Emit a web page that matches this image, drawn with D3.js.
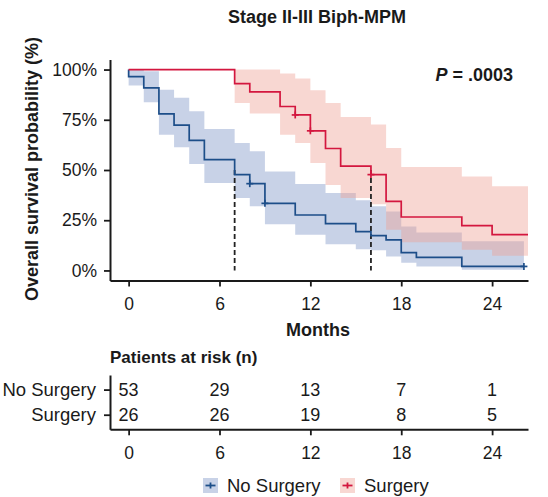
<!DOCTYPE html>
<html>
<head>
<meta charset="utf-8">
<script src="https://cdn.jsdelivr.net/npm/d3@7"></script>
<style>
  body { margin: 0; background: #fff; }
  text { font-family: "Liberation Sans", Arial, sans-serif; fill: #1a1a1a; }
</style>
</head>
<body>
<div id="km_chart"></div>
<script>
// Kaplan-Meier steps (months, %)
const blueTimes = [0, 1, 2, 3, 4, 5, 7, 8, 9, 11, 13, 15, 16, 17, 18, 19, 22];
const blueSurv = [96.5, 90.9, 77.9, 72.3, 64.7, 55.2, 47.7, 43.2, 33.4, 27.6, 23.3, 19.3, 17.3, 15.2, 8.9, 6.5, 2.0];
const blueUpper = [100, 99.2, 90.0, 85.9, 79.2, 70.4, 63.5, 59.3, 49.3, 43.0, 38.6, 35.0, 32.0, 29.4, 21.9, 18.9, 14.5];
const blueLower = [92.0, 83.7, 67.6, 61.3, 53.0, 43.5, 36.1, 31.9, 23.0, 17.8, 13.0, 10.5, 10.0, 7.0, 3.8, 2.0, 0.3];
const blueEnd = 26.1;
const blueCensor = [8, 9, 26.1];

const redTimes = [7, 8, 10, 11, 12, 13, 14, 16, 17, 18, 22, 24];
const redSurv = [93.0, 88.9, 81.6, 77.4, 69.5, 60.7, 51.9, 47.7, 34.4, 26.6, 22.3, 17.8];
const redUpper = [100, 100, 98.0, 95.5, 89.7, 83.4, 76.4, 72.6, 61.0, 51.5, 46.8, 41.9];
const redLower = [83.4, 78.1, 67.6, 63.5, 53.5, 42.5, 36.1, 33.0, 20.3, 14.0, 10.3, 7.3];
const redEnd = 26.37;
const redCensor = [11, 12, 16];

const medians = [7, 16];
const groups = ["No Surgery", "Surgery"];
const riskTimes = [0, 6, 12, 18, 24];
const riskNoSurgery = [53, 29, 13, 7, 1];
const riskSurgery = [26, 26, 19, 8, 5];
const xTicks = [0, 6, 12, 18, 24];
const yTicks = [0, 25, 50, 75, 100];

const width = 548, height = 497;
const BLUE = "#1d4e89", RED = "#d3173f";
const BLUE_BAND = "#7b93c6", RED_BAND = "#ef9f94";

const svg = d3.select("#km_chart").append("svg")
    .attr("width", width)
    .attr("height", height);

const x = d3.scaleLinear().domain([-1.23, 26.37]).range([110, 528]);
const y = d3.scaleLinear().domain([-5, 105]).range([280.5, 59.5]);

const makeSeries = (times, surv, lo, hi, end) => {
    const pts = [{ t: 0, s: 100, lo: 100, hi: 100 }];
    times.forEach((t, i) => pts.push({ t, s: surv[i], lo: lo[i], hi: hi[i] }));
    const last = pts[pts.length - 1];
    pts.push({ t: end, s: last.s, lo: last.lo, hi: last.hi });
    return pts;
};
const survAt = (pts, t) => {
    let v = 100;
    pts.forEach(p => { if (p.t <= t) v = p.s; });
    return v;
};

const series = [
    { name: "No Surgery", color: BLUE, band: BLUE_BAND, censor: blueCensor,
      pts: makeSeries(blueTimes, blueSurv, blueLower, blueUpper, blueEnd) },
    { name: "Surgery", color: RED, band: RED_BAND, censor: redCensor,
      pts: makeSeries(redTimes, redSurv, redLower, redUpper, redEnd) }
];

const area = d3.area()
    .curve(d3.curveStepAfter)
    .x(d => x(d.t))
    .y0(d => y(d.lo))
    .y1(d => y(d.hi));

const line = d3.line()
    .curve(d3.curveStepAfter)
    .x(d => x(d.t))
    .y(d => y(d.s));

// confidence bands
svg.append("g").selectAll("path")
    .data(series)
    .enter().append("path")
    .attr("d", d => area(d.pts))
    .attr("fill", d => d.band)
    .attr("opacity", 0.42);

// median lines
svg.append("g").selectAll("line")
    .data(medians)
    .enter().append("line")
    .attr("x1", d => x(d)).attr("x2", d => x(d))
    .attr("y1", y(50)).attr("y2", y(0))
    .attr("stroke", "#222")
    .attr("stroke-width", 1.8)
    .attr("stroke-dasharray", "5,3");

// survival curves
svg.append("g").selectAll("path")
    .data(series)
    .enter().append("path")
    .attr("d", d => line(d.pts))
    .attr("fill", "none")
    .attr("stroke", d => d.color)
    .attr("stroke-width", 1.7);

// censor marks
series.forEach(s => {
    const g = svg.append("g").attr("stroke", s.color).attr("stroke-width", 1.7);
    s.censor.forEach(t => {
        const cx = x(t), cy = y(survAt(s.pts, t));
        g.append("line").attr("x1", cx - 3.5).attr("x2", cx + 3.5).attr("y1", cy).attr("y2", cy);
        g.append("line").attr("x1", cx).attr("x2", cx).attr("y1", cy - 3.5).attr("y2", cy + 3.5);
    });
});

const styleAxis = (g, size) => {
    g.select(".domain").attr("stroke", "#1a1a1a").attr("stroke-width", 2);
    g.selectAll(".tick line").attr("stroke", "#1a1a1a").attr("stroke-width", 1.8);
    g.selectAll(".tick text")
        .style("font-family", "'Liberation Sans', Arial, sans-serif")
        .style("font-size", size || "17.5px")
        .attr("fill", "#1a1a1a");
};

svg.append("g")
    .attr("transform", "translate(110,0)")
    .call(d3.axisLeft(y).tickValues(yTicks).tickFormat(d => d + "%")
        .tickSize(6).tickSizeOuter(0).tickPadding(7))
    .call(styleAxis);

svg.append("g")
    .attr("transform", "translate(0,280.5)")
    .call(d3.axisBottom(x).tickValues(xTicks).tickSize(6).tickSizeOuter(0).tickPadding(11))
    .call(styleAxis);

svg.append("text")
    .attr("x", 317).attr("y", 23)
    .attr("text-anchor", "middle")
    .style("font-size", "18px").style("font-weight", "bold")
    .text("Stage II-III Biph-MPM");

const pText = svg.append("text")
    .attr("x", 513).attr("y", 81)
    .attr("text-anchor", "end")
    .style("font-size", "18px").style("font-weight", "bold");
pText.append("tspan").style("font-style", "italic").text("P");
pText.append("tspan").text(" = .0003");

svg.append("text")
    .attr("transform", "translate(32,169) rotate(-90)")
    .attr("text-anchor", "middle")
    .attr("dy", "0.35em")
    .style("font-size", "18px").style("font-weight", "bold")
    .text("Overall survival probability (%)");

svg.append("text")
    .attr("x", 318).attr("y", 336)
    .attr("text-anchor", "middle")
    .style("font-size", "18px").style("font-weight", "bold")
    .text("Months");

// risk table
svg.append("text")
    .attr("x", 110).attr("y", 363)
    .style("font-size", "17px").style("font-weight", "bold")
    .text("Patients at risk (n)");

const row = d3.scalePoint().domain(groups).range([375, 429.3]).padding(0.58);

svg.append("g")
    .attr("transform", "translate(110,0)")
    .call(d3.axisLeft(row).tickSize(6).tickSizeOuter(0).tickPadding(8))
    .call(g => styleAxis(g, "18.5px"));

svg.append("g")
    .attr("transform", "translate(0,429.3)")
    .call(d3.axisBottom(x).tickValues(xTicks).tickSize(6).tickSizeOuter(0).tickPadding(11))
    .call(styleAxis);

const riskRows = [
    { name: "No Surgery", values: riskNoSurgery },
    { name: "Surgery", values: riskSurgery }
];
riskRows.forEach(r => {
    svg.append("g").selectAll("text")
        .data(r.values)
        .enter().append("text")
        .attr("x", (d, i) => x(riskTimes[i]))
        .attr("y", row(r.name))
        .attr("dy", "0.36em")
        .attr("text-anchor", "middle")
        .style("font-size", "18px")
        .text(d => d);
});

// legend
const legend = svg.append("g");
const legendItems = legend.selectAll("g")
    .data(series)
    .enter().append("g")
    .attr("transform", (d, i) => `translate(${i === 0 ? 203 : 340},478)`);

legendItems.append("rect")
    .attr("width", 15).attr("height", 15)
    .attr("fill", d => d.band)
    .attr("opacity", 0.42);
legendItems.append("line")
    .attr("x1", 2.5).attr("x2", 12.5).attr("y1", 7.5).attr("y2", 7.5)
    .attr("stroke", d => d.color).attr("stroke-width", 1.8);
legendItems.append("line")
    .attr("x1", 7.5).attr("x2", 7.5).attr("y1", 4.5).attr("y2", 10.5)
    .attr("stroke", d => d.color).attr("stroke-width", 1.8);
legendItems.append("text")
    .attr("x", 24).attr("y", 13.5)
    .style("font-size", "18.5px")
    .text(d => d.name);
</script>
</body>
</html>
